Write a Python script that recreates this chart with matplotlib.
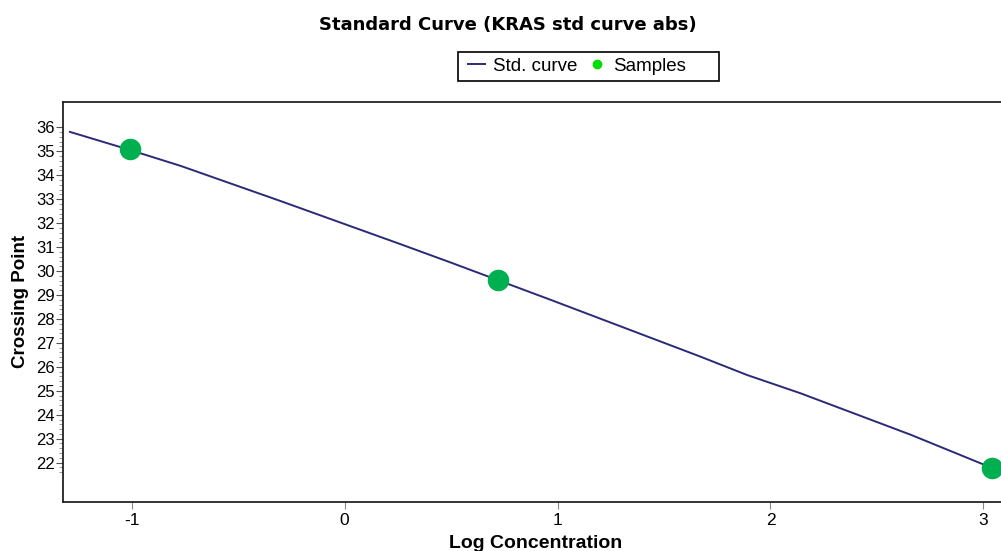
import numpy as np
import matplotlib
matplotlib.use("Agg")
import matplotlib.pyplot as plt
from matplotlib.lines import Line2D
from matplotlib.patches import Rectangle
from matplotlib.ticker import FixedLocator

# Standard curve (log concentration vs crossing point)
curve_x = [-1.29, -1.01, -0.77, -0.30, 0.26, 0.50, 0.97, 1.67, 1.89, 2.14, 2.66, 3.04, 3.08]
curve_y = [35.81, 35.06, 34.39, 32.92, 31.13, 30.35, 28.79, 26.43, 25.66, 24.90, 23.16, 21.78, 21.64]

# Sample measurements
sample_x = [-1.01, 0.72, 3.04]
sample_y = [35.10, 29.63, 21.78]

x_ticks = [-1, 0, 1, 2, 3]
y_ticks = list(range(22, 37))

title = "Standard Curve (KRAS std curve abs)"
x_label = "Log Concentration"
y_label = "Crossing Point"

plt.rcParams["font.family"] = ["Liberation Sans", "DejaVu Sans"]

W, H = 1001, 551
fig = plt.figure(figsize=(W / 100, H / 100), dpi=100, facecolor="white")

left, right, top, bottom = 63.3, 1009.0, 101.7, 501.7
ax = fig.add_axes([left / W, 1 - bottom / H, (right - left) / W, (bottom - top) / H])
ax.set_facecolor("white")

line_color = "#2a2a78"
sample_color = "#00b050"

ax.plot(curve_x, curve_y, color=line_color, lw=1.4, zorder=2, clip_on=True)
ax.plot(sample_x, sample_y, "o", color=sample_color, ms=14.5, mec=sample_color,
        zorder=3, clip_on=False)

ax.set_xlim(-1.321, 3.12)
ax.set_ylim(20.37, 37.07)

ax.set_xticks(x_ticks)
ax.set_xticklabels(["-1", "0", "1", "2", "3"])
ax.set_yticks(y_ticks)
minor = [round(21.6 + 0.2 * i, 1) for i in range(72)]
minor = [m for m in minor if abs(m - round(m)) > 1e-6]
ax.yaxis.set_minor_locator(FixedLocator(minor))

ax.tick_params(axis="y", which="major", length=5, width=0.8, color="#555555",
               pad=1, labelsize=12)
ax.tick_params(axis="y", which="minor", length=3, width=0.6, color="#888888")
ax.tick_params(axis="x", which="major", length=5, width=0.8, color="#888888",
               pad=3, labelsize=12.5)

for side in ["left", "bottom", "top"]:
    ax.spines[side].set_color("#222222")
    ax.spines[side].set_linewidth(1.3)
ax.spines["right"].set_visible(False)

ax.set_ylabel(y_label, fontsize=13.5, fontweight="bold", labelpad=5)
fig.text(536 / W, 1 - 543 / H, x_label, ha="center", va="center",
         fontsize=14, fontweight="bold")

fig.text(508 / W, 1 - 25 / H, title, ha="center", va="center",
         fontsize=13, fontweight="bold", family="DejaVu Sans")

# Legend: entries without a frame, boxed by a separate rectangle
handles = [
    Line2D([], [], color=line_color, lw=1.4),
    Line2D([], [], marker="o", ls="none", color="#00dd00", ms=6),
]
fig.legend(handles, ["Std. curve", "Samples"], loc="center left",
           bbox_to_anchor=(468 / W, 1 - 66.4 / H), ncol=2,
           frameon=False, fontsize=13.5,
           handlelength=0.9, handletextpad=0.41, columnspacing=0.63,
           borderpad=0, borderaxespad=0)
fig.patches.append(Rectangle((458 / W, 1 - 81 / H), (719 - 458) / W, (81 - 51.7) / H,
                             transform=fig.transFigure, facecolor="none",
                             edgecolor="black", linewidth=1.2))

fig.savefig("out.png", dpi=100, facecolor="white")
